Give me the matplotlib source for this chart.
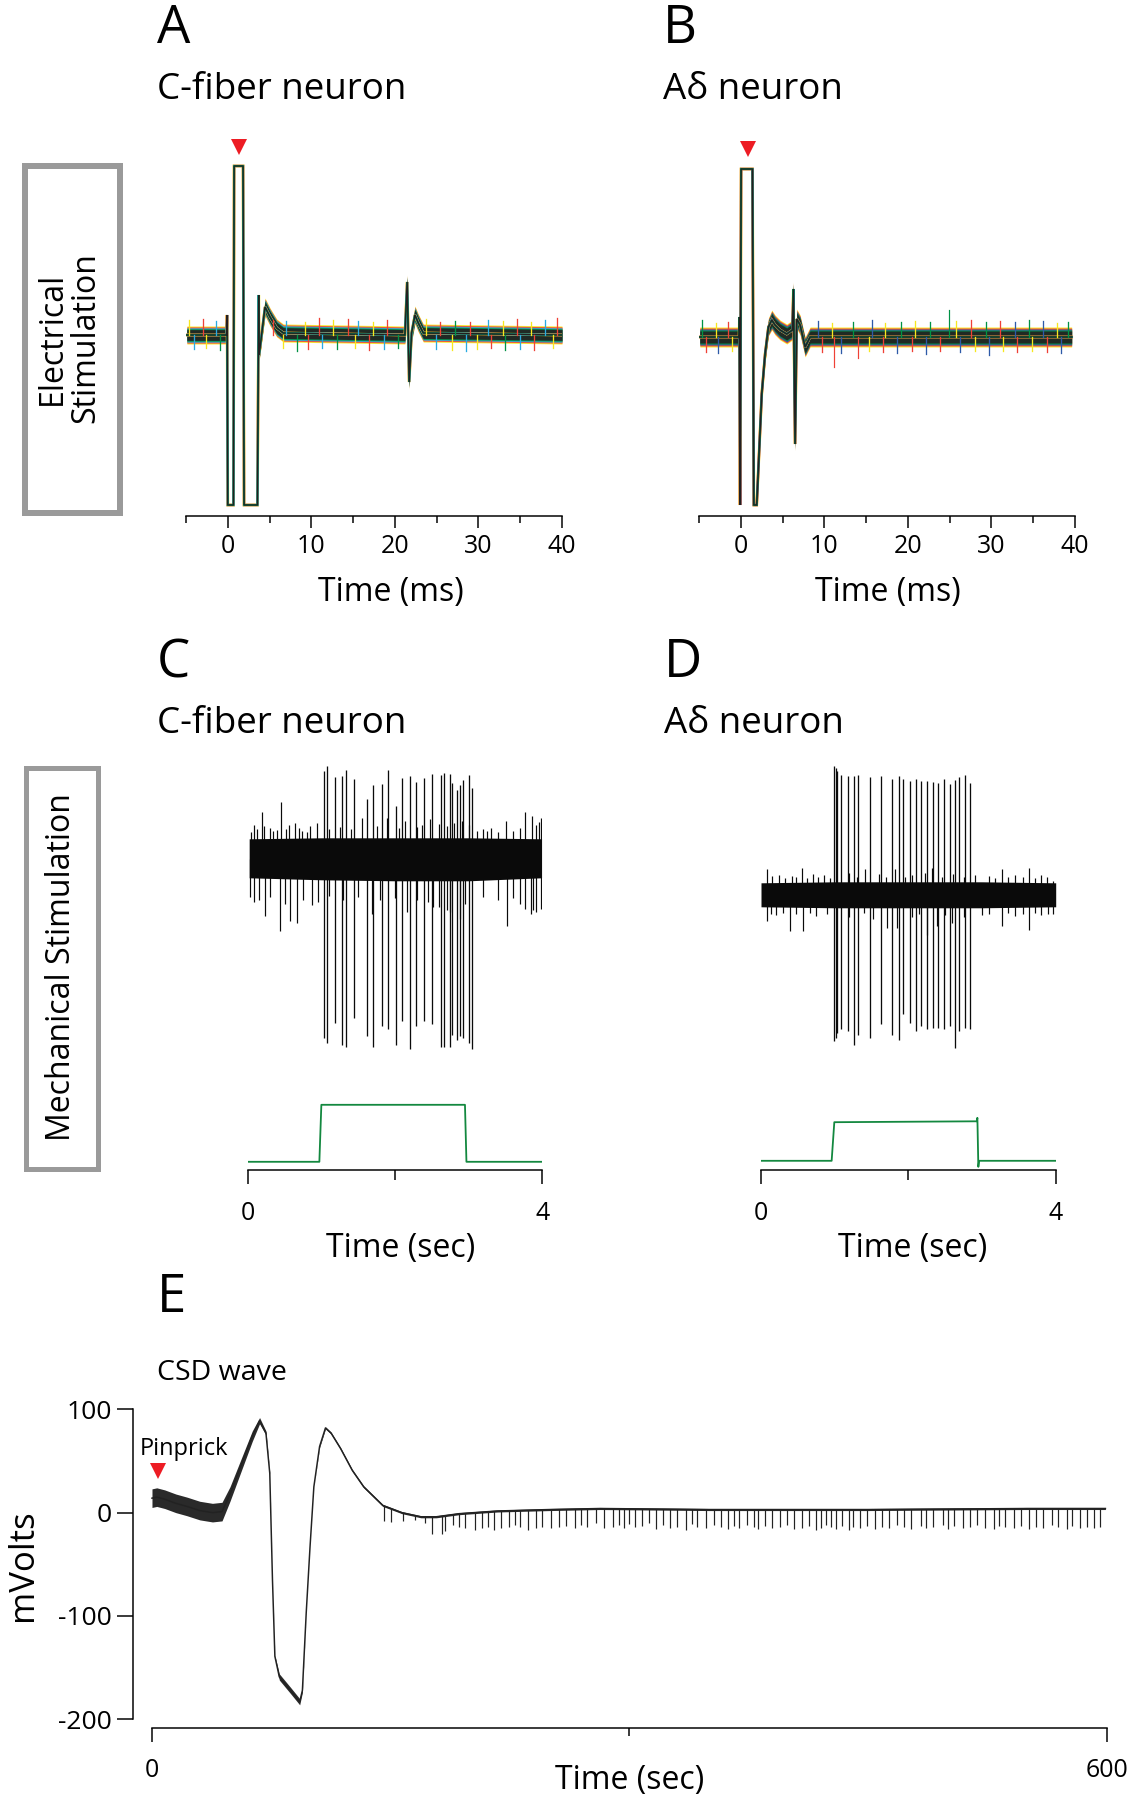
import numpy as np
import matplotlib
matplotlib.use("Agg")
import matplotlib.pyplot as plt
from matplotlib.patches import Rectangle

plt.rcParams['font.family'] = ['Open Sans', 'DejaVu Sans']

# ---------------- data ----------------
# Panel A: C-fiber neuron, electrical stimulation (time ms, amplitude a.u.)
a_t = [-4.9, -0.15, -0.08, 0.0, 0.68, 0.76, 1.83, 1.95, 3.55, 3.70, 3.75, 4.46, 5.06, 5.86, 6.65,
       21.2, 21.47, 21.71, 22.0, 22.4, 22.8, 23.4, 40.0]
a_y = [0, 0, 20, -170, -170, 169, 169, -170, -170, 40, -20, 28, 18, 7, 2,
       0, 53, -47, 2, 20, 12, 2, 0]
a_noise = [9, 9, 0, 0, 0, 0, 0, 0, 0, 0, 6, 9, 9, 9, 9,
           9, 7, 7, 9, 9, 9, 9, 9]
a_stim_t = 1.35
# noise flecks (time, amplitude, trace index)
a_fl_t = [-4.6, -4.1, -3.0, -2.6, -1.4, -0.9, 5.4, 6.6, 7.0, 8.3, 9.2, 9.6, 10.9, 11.3, 12.6,
          13.1, 14.4, 15.2, 15.6, 16.9, 17.4, 18.7, 19.1, 20.4, 23.7, 24.9, 25.4, 26.8, 27.2,
          28.5, 29.0, 29.8, 31.1, 31.5, 32.9, 33.2, 34.6, 35.0, 36.3, 36.7, 38.0, 38.9, 39.4]
a_fl_y = [15, -14, 16, -13, 14, -15, 15, -13, 14, -16, 13, -14, 17, -13, 15,
          -14, 16, -13, 14, -15, 13, -14, 15, -13, 16, -14, 13, -15, 14,
          -16, 13, -14, 15, -13, 14, -15, 16, -14, 13, -15, 15, -13, 17]
a_fl_c = [0, 2, 1, 0, 2, 3, 1, 0, 2, 3, 0, 1, 1, 2, 0,
          3, 1, 0, 2, 1, 0, 2, 1, 3, 0, 2, 1, 0, 3,
          2, 1, 0, 2, 1, 0, 3, 1, 2, 0, 1, 2, 0, 1]

# Panel B: A-delta neuron, electrical stimulation
b_t = [-4.9, -0.2, -0.16, -0.08, 0.04, 1.40, 1.56, 1.91, 2.51, 2.91, 3.31, 3.71, 4.1, 4.7, 5.5,
       6.18, 6.3, 6.5, 6.7, 7.1, 7.7, 8.3, 39.6]
b_y = [0, 0, 20, -168, 168, 168, -168, -168, -57, -17, 10, 17, 12, 7, 3,
       7, 48, -107, 18, 12, -10, 0, 0]
b_noise = [10, 10, 0, 0, 0, 0, 0, 0, 4, 8, 9, 10, 10, 10, 10,
           10, 7, 7, 10, 10, 10, 10, 10]
b_out_t = [11.2, 14.0, 24.9]
b_out_y = [-30, -21, 27]
b_stim_t = 0.92
b_fl_t = [-4.7, -4.2, -3.0, -2.7, -1.5, -1.0, 9.2, 9.7, 10.9, 12.0, 13.4, 15.3, 15.7, 17.0,
          17.3, 18.7, 19.2, 20.5, 20.9, 22.2, 22.6, 23.9, 25.8, 26.2, 27.6, 28.0, 29.3, 29.7,
          31.0, 31.4, 32.8, 33.1, 34.5, 34.9, 36.2, 36.6, 37.9, 38.3, 39.2]
b_fl_y = [17, -15, 14, -16, 15, -14, 16, -15, 14, -16, 15, -14, 17, -15,
          14, -16, 15, -14, 16, -17, 15, -14, 16, -15, 17, -14, 15, -18,
          16, -14, 15, -15, 17, -14, 16, -15, 14, -16, 15]
b_fl_c = [3, 1, 0, 2, 1, 0, 2, 1, 0, 2, 3, 0, 2, 1,
          0, 2, 3, 1, 0, 2, 3, 1, 0, 2, 1, 0, 3, 2,
          1, 0, 2, 1, 3, 0, 2, 1, 0, 2, 3]

# Panel C: C-fiber neuron, mechanical stimulation (time s)
c_stim_t = [0.0, 0.973, 1.0, 2.95, 2.97, 4.0]
c_stim_y = [0, 0, 57, 57, 0, 0]
c_band_t = [0.02, 1.0, 2.0, 3.0, 3.99]
c_band_hi = [323, 324, 324, 324, 323]
c_band_lo = [284, 282, 281, 281, 284]
c_spk_t = [1.03, 1.08, 1.19, 1.28, 1.34, 1.44, 1.62, 1.70, 1.82, 1.91, 2.02, 2.10, 2.20,
           2.29, 2.40, 2.50, 2.62, 2.66, 2.74, 2.78, 2.84, 2.88, 2.93, 3.01, 3.05]
c_spk_top = [391, 396, 385, 386, 392, 383, 363, 377, 378, 392, 356, 384, 386,
             380, 384, 388, 387, 389, 388, 379, 372, 377, 382, 387, 374]
c_spk_bot = [124, 119, 139, 117, 115, 144, 126, 115, 136, 133, 117, 141, 113,
             136, 141, 138, 115, 115, 115, 127, 122, 126, 124, 119, 113]
c_up_t = [0.05, 0.086, 0.12, 0.19, 0.226, 0.303, 0.35, 0.40, 0.448, 0.52, 0.566, 0.643, 0.70,
          0.733, 0.80, 0.846, 0.946, 1.10, 1.25, 1.40, 1.548, 1.75, 1.887, 2.05, 2.136, 2.30,
          2.362, 2.475, 2.60, 2.70, 2.80, 2.905, 3.00, 3.109, 3.20, 3.244, 3.30, 3.40, 3.507,
          3.606, 3.70, 3.765, 3.855, 3.914, 3.95, 3.977]
c_up_y = [330, 337, 333, 350, 336, 334, 331, 332, 360, 333, 337, 339, 334,
          331, 330, 336, 339, 333, 335, 333, 344, 336, 344, 334, 341, 335,
          337, 343, 338, 336, 339, 341, 337, 331, 333, 331, 334, 330, 341,
          331, 334, 350, 346, 337, 340, 344]
c_dn_t = [0.03, 0.086, 0.15, 0.235, 0.30, 0.439, 0.50, 0.575, 0.665, 0.75, 0.869, 0.959, 1.10,
          1.30, 1.50, 1.683, 1.80, 2.00, 2.158, 2.30, 2.45, 2.52, 2.60, 2.70, 2.75, 2.882,
          2.95, 3.20, 3.40, 3.516, 3.60, 3.70, 3.765, 3.846, 3.88, 3.914, 3.977]
c_dn_y = [265, 260, 262, 246, 265, 231, 258, 241, 239, 262, 257, 260, 266,
          262, 265, 248, 262, 264, 250, 262, 260, 255, 255, 252, 250, 243,
          258, 265, 262, 236, 264, 258, 253, 248, 252, 250, 253]

# Panel D: A-delta neuron, mechanical stimulation
d_stim_t = [0.0, 0.959, 0.995, 2.93, 2.937, 2.95, 2.96, 4.0]
d_stim_y = [0, 0, 38.6, 39.5, 43, -6, 0, 0]
d_band_t = [0.0, 1.0, 2.0, 3.0, 4.0]
d_band_hi = [278, 279, 279, 279, 278]
d_band_lo = [254, 253, 253, 253, 254]
d_spk_t = [0.995, 1.014, 1.036, 1.086, 1.176, 1.267, 1.321, 1.480, 1.629, 1.778, 1.869, 1.932,
           2.023, 2.100, 2.172, 2.249, 2.330, 2.403, 2.484, 2.566, 2.633, 2.692, 2.774, 2.837]
d_spk_top = [395, 393, 390, 386, 385, 385, 386, 384, 385, 382, 385, 382,
             380, 382, 380, 380, 379, 378, 382, 377, 381, 384, 386, 378]
d_spk_bot = [120, 123, 128, 132, 130, 116, 126, 123, 137, 126, 121, 147,
             138, 130, 135, 132, 133, 133, 132, 135, 113, 130, 133, 132]
d_up_t = [0.077, 0.15, 0.25, 0.33, 0.416, 0.48, 0.552, 0.63, 0.70, 0.78, 0.85, 0.93, 1.2, 1.3,
          1.412, 1.6, 1.7, 1.819, 1.95, 2.05, 2.226, 2.317, 2.45, 2.6, 2.75, 2.9, 3.1, 3.18,
          3.267, 3.35, 3.45, 3.55, 3.643, 3.72, 3.8, 3.88, 3.968]
d_up_y = [292, 285, 286, 283, 285, 284, 293, 283, 287, 284, 286, 283, 288, 284,
          292, 287, 284, 292, 284, 286, 288, 293, 284, 287, 284, 286, 285, 283,
          292, 284, 286, 284, 293, 283, 286, 284, 280]
d_dn_t = [0.077, 0.14, 0.2, 0.3, 0.394, 0.48, 0.575, 0.66, 0.75, 0.9, 1.2, 1.4, 1.525, 1.706,
          1.842, 2.05, 2.15, 2.249, 2.385, 2.5, 2.588, 2.75, 3.0, 3.1, 3.267, 3.35, 3.45, 3.55,
          3.643, 3.72, 3.8, 3.9, 3.968]
d_dn_y = [240, 247, 246, 248, 230, 247, 230, 248, 245, 247, 244, 248, 242, 233,
          233, 244, 247, 226, 235, 246, 238, 244, 246, 247, 235, 248, 245, 247,
          231, 248, 246, 247, 247]

# Panel E: CSD wave (time s, mV)
e_t = [0, 3, 8, 15, 22, 30, 38, 44, 49, 56, 63, 67.6, 71.6, 74, 75.7, 77.2, 80, 87, 92.8,
       94.5, 96.9, 99.3, 101.7, 105.3, 109, 112.5, 118.5, 125.8, 133, 145, 157, 169, 178.6,
       193, 217, 250, 281.5, 350, 450, 550, 599]
e_mv = [14, 15, 13, 9, 6, 2, 0, 1, 18, 46, 74, 89, 77, 38, -65, -139, -159, -172, -183,
        -172, -97, -33, 25, 64, 82, 77, 62, 41, 25, 7, 0, -4, -4,
        -1, 1.6, 3, 4, 3, 3, 4, 4]
e_noise = [9, 9, 9, 9, 9, 9, 9, 9, 7, 6, 5, 3, 2, 1, 0, 1, 3, 3, 3,
           2, 0, 0, 0, 1, 1, 1, 1, 1, 1, 1, 1, 1, 1,
           1, 1, 1, 1, 1, 1, 1, 1]
e_dip_t = [146, 150, 158, 165.4, 171.4, 176.2, 182.3, 184, 189, 193, 196.7, 202.7, 207.5, 211.1,
           214.7, 219.5, 224.3, 228, 231.5, 236.4, 241.2, 244.8, 250.8, 255.6, 260.4, 265.5,
           269.5, 273.6, 279, 283.9, 289.7, 293.1, 296.6, 300, 303.5, 308.1, 312.5, 316.6, 321,
           325.3, 329.9, 335.7, 339, 342.6, 348.3, 352.9, 357.5, 362.1, 365.5, 369, 373.6,
           378.2, 380.5, 385.1, 389.7, 394.3, 398.9, 403.5, 408.1, 412.7, 417.3, 420.1, 423.5,
           426.5, 430, 433.4, 438, 440.3, 444.9, 449.5, 454.1, 458.7, 463.3, 467.9, 472.5,
           477.1, 482.9, 486.3, 490.9, 496.7, 500.1, 503.6, 509.3, 513.9, 518.5, 523.1, 528.9,
           532.3, 535.8, 541.5, 546.1, 550.7, 555.3, 559.9, 565.7, 569.1, 574.9, 578.3, 582.9,
           587.5, 592.1, 595.6]
e_dip_lo = [-8, -9, -8, -7, -10, -21, -21, -18, -12, -14,
            -15, -17, -15, -14, -17, -15, -14, -12, -14, -17,
            -15, -14, -15, -14, -13, -15, -12, -14, -10, -15,
            -14, -12, -15, -11, -14, -13, -10, -16, -12, -15,
            -14, -17, -11, -14, -15, -12, -14, -16, -13, -15,
            -12, -14, -16, -13, -15, -14, -12, -16, -15, -13,
            -17, -15, -12, -14, -16, -13, -17, -14, -15, -13,
            -16, -14, -15, -12, -14, -16, -13, -15, -14, -12,
            -16, -13, -15, -14, -12, -15, -16, -13, -14, -15,
            -13, -16, -14, -15, -12, -14, -16, -13, -15, -14,
            -15, -14]
e_stim = (3.5, 40)

trace_colors = ['#f7e81e', '#ef4136', '#29abe2', '#009245', '#231f20']
b_trace_colors = ['#f7e81e', '#ef4136', '#2e5aa8', '#009245', '#231f20']

# ---------------- figure ----------------
W, H = 1134, 1800
fig = plt.figure(figsize=(W / 100, H / 100), dpi=100)
PT = 72 / 100  # points per pixel


def px_axes(left, top, right, bottom):
    return fig.add_axes([left / W, 1 - bottom / H, (right - left) / W, (bottom - top) / H])


def ftext(x, y, s, **kw):
    return fig.text(x / W, 1 - y / H, s, **kw)


def style_bottom_only(ax):
    for s in ['left', 'right', 'top']:
        ax.spines[s].set_visible(False)
    ax.spines['bottom'].set_linewidth(1.5 * PT)
    ax.set_yticks([])
    ax.patch.set_alpha(0)


RED = '#ed1c24'
TRACE_BLACK = '#0a0a0a'


def elec_panel(ax, t, y, noise, colors, stim_t, fl_t, fl_y, fl_c):
    t = np.asarray(t, float)
    y = np.asarray(y, float)
    n = np.asarray(noise, float)
    scales = [1.0, 0.9, 0.8, 0.7, 0.6]
    lws = [2.0, 1.8, 1.6, 1.3, 1.0]
    for c, s, lw in zip(colors, scales, lws):
        ax.fill_between(t, y - s * n, y + s * n, color=c, lw=0, alpha=0.9)
        ax.plot(t, y, color=c, lw=lw * PT * 1.4, solid_joinstyle='miter')
    for tt, yy, ci in zip(fl_t, fl_y, fl_c):
        ax.plot([tt, tt], [0, yy], color=colors[ci], lw=1.3 * PT)
    ax.plot([stim_t], [188], marker='v', color=RED, markersize=11.5, markeredgewidth=0)
    ax.set_xlim(-5, 40)
    style_bottom_only(ax)
    ax.set_xticks([0, 10, 20, 30, 40])
    ax.set_xticks([-5, 5, 15, 25, 35], minor=True)
    ax.tick_params(axis='x', which='major', direction='out', length=12.3 * PT,
                   width=1.5 * PT, labelsize=18, pad=4)
    ax.tick_params(axis='x', which='minor', direction='out', length=6.5 * PT, width=1.5 * PT)


# Panel A
axA = px_axes(186, 516 - 381, 562, 516)
axA.set_ylim(-181, 200)
elec_panel(axA, a_t, a_y, a_noise, trace_colors, a_stim_t, a_fl_t, a_fl_y, a_fl_c)

# Panel B
axB = px_axes(699, 516 - 379, 1075, 516)
axB.set_ylim(-179, 200)
elec_panel(axB, b_t, b_y, b_noise, b_trace_colors, b_stim_t, b_fl_t, b_fl_y, b_fl_c)
for tt, yy, cc in zip(b_out_t, b_out_y, ['#ef4136', '#ef4136', '#009245']):
    axB.plot([tt, tt], [0, yy], color=cc, lw=1.2 * PT)


def mech_panel(ax, stim_t, stim_y, band_t, band_lo, band_hi, spk_t, spk_top, spk_bot,
               up_t, up_y, dn_t, dn_y, center):
    ax.fill_between(band_t, band_lo, band_hi, color=TRACE_BLACK, lw=0)
    ax.vlines(up_t, center, up_y, color=TRACE_BLACK, lw=1.2 * PT)
    ax.vlines(dn_t, dn_y, center, color=TRACE_BLACK, lw=1.2 * PT)
    ax.vlines(spk_t, spk_bot, spk_top, color=TRACE_BLACK, lw=1.3 * PT)
    ax.plot(stim_t, stim_y, color='#13883f', lw=1.8 * PT)
    ax.set_xlim(0, 4)
    style_bottom_only(ax)
    ax.set_xticks([0, 4])
    ax.set_xticklabels(['0', '4'])
    ax.set_xticks([2], minor=True)
    ax.tick_params(axis='x', which='major', direction='out', length=14.4 * PT,
                   width=1.5 * PT, labelsize=18, pad=12)
    ax.tick_params(axis='x', which='minor', direction='out', length=9.5 * PT, width=1.5 * PT)


# Panel C
axC = px_axes(247.7, 761.8, 542.3, 1170.4)
axC.set_ylim(-8.6, 400)
mech_panel(axC, c_stim_t, c_stim_y, c_band_t, c_band_lo, c_band_hi, c_spk_t, c_spk_top,
           c_spk_bot, c_up_t, c_up_y, c_dn_t, c_dn_y, 303)

# Panel D
axD = px_axes(761, 760.8, 1055.7, 1170.4)
axD.set_ylim(-9.6, 400)
mech_panel(axD, d_stim_t, d_stim_y, d_band_t, d_band_lo, d_band_hi, d_spk_t, d_spk_top,
           d_spk_bot, d_up_t, d_up_y, d_dn_t, d_dn_y, 266)

# Panel E
axE = px_axes(133.2, 1409.3, 1107, 1728.3)
axE.set_xlim(-11.8, 600)
axE.set_ylim(-208.7, 100)
et = np.asarray(e_t, float)
em = np.asarray(e_mv, float)
en = np.asarray(e_noise, float)
axE.fill_between(et, em - en, em + en, color='#2a2a2a', lw=0)
axE.plot(et, em, color='#222222', lw=1.5 * PT)
dip_top = np.interp(e_dip_t, et, em)
axE.vlines(e_dip_t, e_dip_lo, dip_top, color='#222222', lw=1.2 * PT)
axE.plot([e_stim[0]], [e_stim[1]], marker='v', color=RED, markersize=11.5, markeredgewidth=0,
         clip_on=False)
axE.text(-7.7, 55.8, 'Pinprick', fontsize=17, va='baseline', ha='left', clip_on=False)
for s in ['right', 'top']:
    axE.spines[s].set_visible(False)
axE.spines['left'].set_bounds(-200, 100)
axE.spines['bottom'].set_bounds(0, 600)
axE.spines['left'].set_linewidth(1.5 * PT)
axE.spines['bottom'].set_linewidth(1.5 * PT)
axE.patch.set_alpha(0)
axE.set_yticks([100, 0, -100, -200])
axE.set_yticklabels(['100', '0', '-100', '-200'])
axE.set_xticks([0, 600])
axE.set_xticklabels(['0', '600'])
axE.set_xticks([300], minor=True)
axE.tick_params(axis='y', direction='out', length=16.5 * PT, width=1.5 * PT, labelsize=19, pad=3.5)
axE.tick_params(axis='x', which='major', direction='out', length=14.3 * PT, width=1.5 * PT,
                labelsize=18, pad=11)
axE.tick_params(axis='x', which='minor', direction='out', length=8.3 * PT, width=1.5 * PT)

# ---------------- texts ----------------
ftext(157, 43, 'A', fontsize=38, va='baseline')
ftext(157, 99, 'C-fiber neuron', fontsize=26.5, va='baseline')
ftext(663, 43, 'B', fontsize=38, va='baseline')
ftext(663, 99, 'A\u03b4 neuron', fontsize=26.5, va='baseline')
ftext(157, 677, 'C', fontsize=38, va='baseline')
ftext(157, 733, 'C-fiber neuron', fontsize=26.5, va='baseline')
ftext(664, 677, 'D', fontsize=38, va='baseline')
ftext(664, 733, 'A\u03b4 neuron', fontsize=26.5, va='baseline')
ftext(157, 1312, 'E', fontsize=38, va='baseline')
ftext(157, 1380, 'CSD wave', fontsize=20.5, va='baseline')

ftext(391, 592, 'Time (ms)', fontsize=23, ha='center', va='center')
ftext(888, 592, 'Time (ms)', fontsize=23, ha='center', va='center')
ftext(401, 1249, 'Time (sec)', fontsize=23, ha='center', va='center')
ftext(913, 1249, 'Time (sec)', fontsize=23, ha='center', va='center')
ftext(630, 1780, 'Time (sec)', fontsize=23, ha='center', va='center')
ftext(23, 1565, 'mVolts', fontsize=25, ha='center', va='center', rotation=90)

# side boxes
GRAY = '#9a9a9a'
fig.patches.append(Rectangle((25 / W, 1 - 513 / H), 95 / W, 346.5 / H, transform=fig.transFigure,
                             fill=False, edgecolor=GRAY, lw=6 * PT))
ftext(69, 338, 'Electrical\nStimulation', fontsize=23, ha='center', va='center', rotation=90,
      linespacing=1.0, multialignment='center')
fig.patches.append(Rectangle((25.5 / W, 1 - 1168.5 / H), 72 / W, 401 / H, transform=fig.transFigure,
                             fill=False, edgecolor=GRAY, lw=5 * PT))
ftext(62, 967, 'Mechanical Stimulation', fontsize=23, ha='center', va='center', rotation=90)

fig.savefig('out.png', dpi=100, facecolor='white')
